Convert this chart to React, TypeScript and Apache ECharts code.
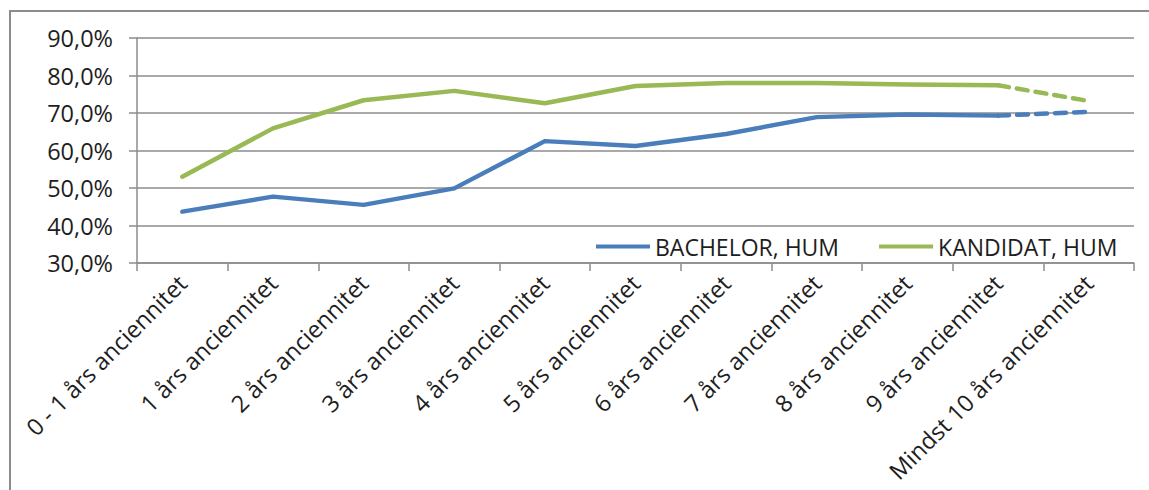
import React, { useEffect, useRef } from "react";
import * as echarts from "echarts";

const categories = [
  "0 - 1 års anciennitet",
  "1 års anciennitet",
  "2 års anciennitet",
  "3 års anciennitet",
  "4 års anciennitet",
  "5 års anciennitet",
  "6 års anciennitet",
  "7 års anciennitet",
  "8 års anciennitet",
  "9 års anciennitet",
  "Mindst 10 års anciennitet",
];

const bachelorHum = [43.7, 47.7, 45.5, 49.9, 62.5, 61.2, 64.4, 68.9, 69.6, 69.3, 70.3];
const kandidatHum = [53.0, 65.9, 73.4, 75.9, 72.6, 77.2, 78.0, 78.0, 77.6, 77.4, 73.2];

const seriesNames = ["BACHELOR, HUM", "KANDIDAT, HUM"];
const seriesColors = ["#4A7EBB", "#98B954"];
// last index of the solid part; segment after it is drawn dashed
const lastSolidIndex = 9;

const yMin = 30;
const yMax = 90;
const yStep = 10;

const FONT = "Open Sans";

export default function App() {
  const ref = useRef<HTMLDivElement>(null);

  useEffect(() => {
    document.body.style.margin = "0";
    if (!ref.current) return;
    const chart = echarts.init(ref.current, undefined, { renderer: "svg" });

    const values = [bachelorHum, kandidatHum];
    const series: any[] = [];
    values.forEach((vals, k) => {
      series.push({
        name: seriesNames[k],
        type: "line",
        data: vals.map((v, i) => (i <= lastSolidIndex ? v : null)),
        symbol: "none",
        color: seriesColors[k],
        lineStyle: { width: 4.5, color: seriesColors[k], cap: "round", join: "round" },
        z: 3,
      });
      series.push({
        name: seriesNames[k] + " (dashed)",
        type: "line",
        data: vals.map((v, i) => (i >= lastSolidIndex ? v : null)),
        symbol: "none",
        color: seriesColors[k],
        lineStyle: {
          width: 4.5,
          color: seriesColors[k],
          type: [11, 8],
          cap: "round",
          join: "round",
        },
        z: 3,
      });
    });

    chart.setOption({
      animation: false,
      backgroundColor: "#ffffff",
      textStyle: { fontFamily: FONT },
      graphic: [
        {
          type: "rect",
          shape: { x: 10, y: 11, width: 1150, height: 500 },
          style: { fill: "none", stroke: "#8c8c8c", lineWidth: 2 },
          silent: true,
        },
      ],
      grid: { left: 137, right: 15, top: 38, bottom: 227, containLabel: false },
      legend: {
        data: seriesNames,
        left: 591,
        top: 230,
        icon: "rect",
        itemWidth: 54,
        itemHeight: 4,
        itemGap: 40,
        textStyle: { fontFamily: FONT, fontSize: 23, color: "#1e1e1e" },
      },
      xAxis: {
        type: "category",
        data: categories,
        boundaryGap: true,
        axisLine: { show: true, lineStyle: { color: "#8c8c8c", width: 1.5 } },
        axisTick: { show: true, length: 8, alignWithLabel: false, lineStyle: { color: "#8c8c8c", width: 1.5 } },
        axisLabel: {
          interval: 0,
          rotate: 45,
          margin: 16,
          fontFamily: FONT,
          fontSize: 23.5,
          color: "#1e1e1e",
        },
        splitLine: { show: false },
      },
      yAxis: {
        type: "value",
        min: yMin,
        max: yMax,
        interval: yStep,
        axisLine: { show: true, lineStyle: { color: "#8c8c8c", width: 1.5 } },
        axisTick: { show: true, length: 8, lineStyle: { color: "#8c8c8c", width: 1.5 } },
        axisLabel: {
          margin: 24,
          fontFamily: FONT,
          fontSize: 23.5,
          color: "#1e1e1e",
          formatter: (v: number) => v.toFixed(1).replace(".", ",") + "%",
        },
        splitLine: { show: true, lineStyle: { color: "#8c8c8c", width: 1.5 } },
      },
      series,
    });

    return () => chart.dispose();
  }, []);

  return <div ref={ref} style={{ width: 1149, height: 490 }} />;
}
